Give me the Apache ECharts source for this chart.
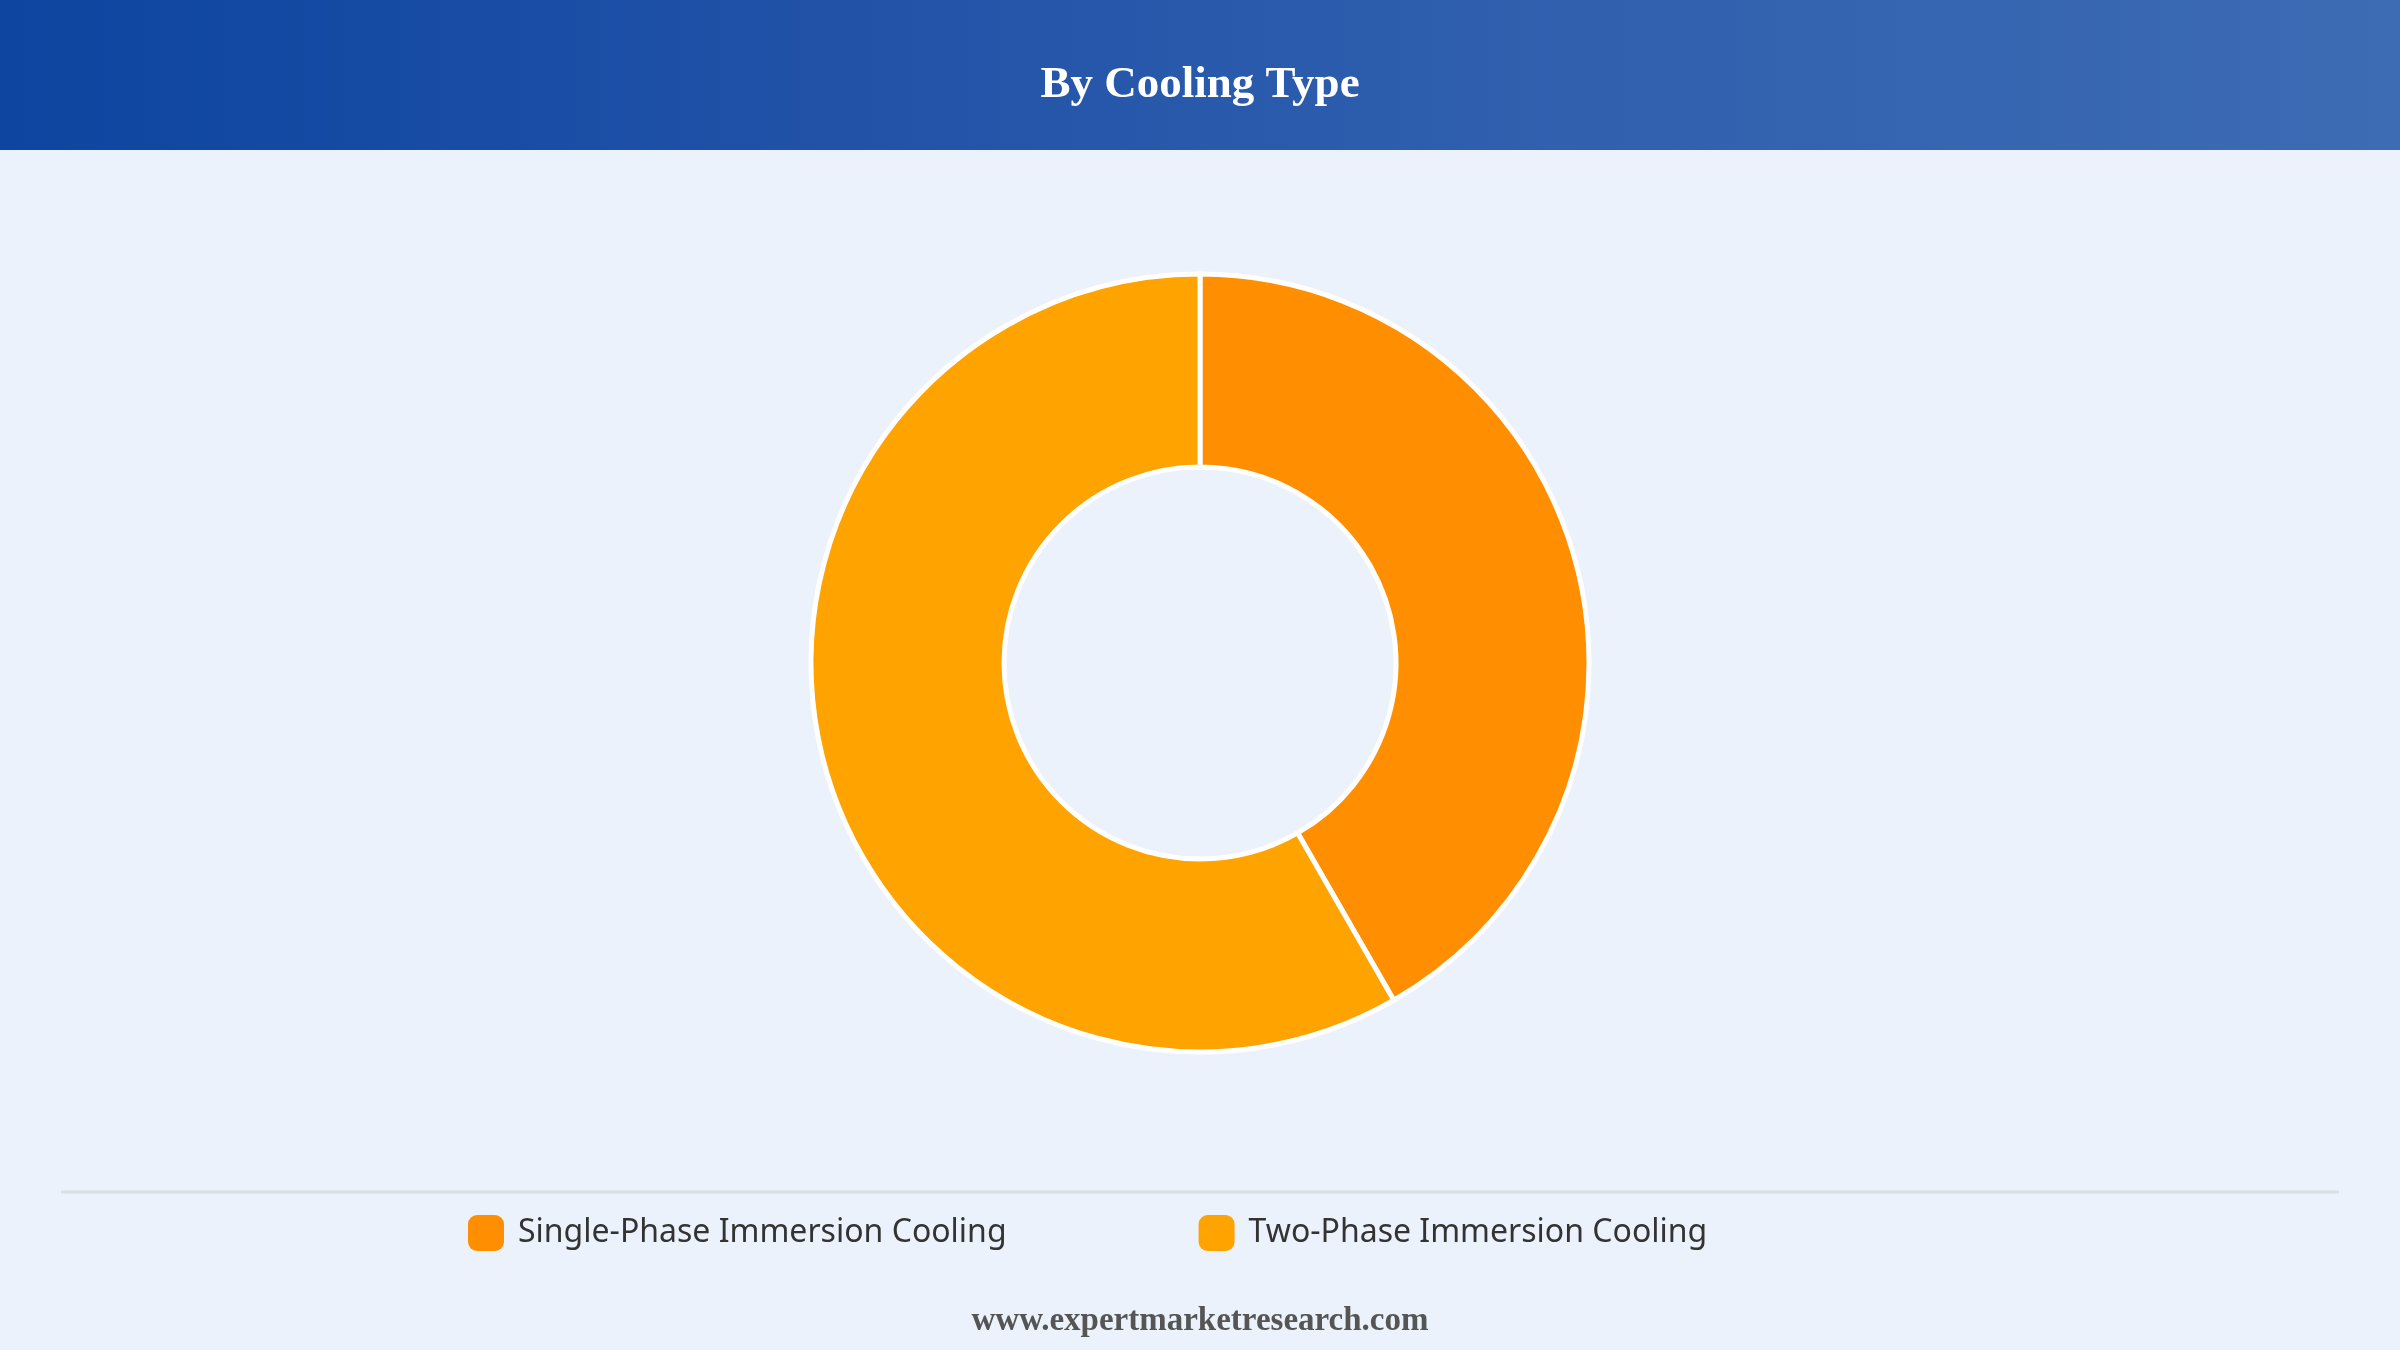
<!DOCTYPE html>
<html>
<head>
<meta charset="utf-8">
<script src="https://cdn.jsdelivr.net/npm/echarts@6/dist/echarts.min.js"></script>
<style>
html,body{margin:0;padding:0;width:2400px;height:1350px;background:#EBF2FC;overflow:hidden;}
#header{position:absolute;left:0;top:0;width:2400px;height:150px;background:linear-gradient(90deg,#0D45A0 0%,#2152A8 35%,#3060AE 65%,#3D6BB4 100%);}
#chart{position:absolute;left:0;top:0;width:2400px;height:1350px;}
</style>
</head>
<body>
<div id="header"></div>
<div id="chart"></div>
<script>
const titleText = 'By Cooling Type';
const categories = ['Single-Phase Immersion Cooling', 'Two-Phase Immersion Cooling'];
const values = [41.7, 58.3];
const colors = ['#FF8F00', '#FFA300'];
const footerText = 'www.expertmarketresearch.com';

const chart = echarts.init(document.getElementById('chart'));
chart.setOption({
  backgroundColor: 'transparent',
  title: {
    text: titleText,
    left: 'center',
    top: 58,
    textStyle: {
      fontFamily: 'Liberation Serif, Times New Roman, serif',
      fontWeight: 'bold',
      fontSize: 45,
      color: '#ffffff'
    }
  },
  legend: {
    data: categories,
    left: 463,
    top: 1210,
    itemWidth: 36,
    itemHeight: 36,
    itemGap: 192,
    icon: 'roundRect',
    itemStyle: { borderWidth: 0 },
    textStyle: {
      fontFamily: 'Noto Sans, Open Sans, sans-serif',
      fontSize: 32,
      color: '#333333',
      padding: [0, 0, 0, 9]
    }
  },
  graphic: [
    {
      type: 'line',
      shape: { x1: 61, y1: 1192, x2: 2339, y2: 1192 },
      style: { stroke: '#DADDE2', lineWidth: 3 }
    },
    {
      type: 'text',
      left: 'center',
      top: 1305,
      style: {
        text: footerText,
        fontFamily: 'Liberation Serif, Times New Roman, serif',
        fontWeight: 'bold',
        fontSize: 33,
        fill: '#555555'
      }
    }
  ],
  series: [{
    type: 'pie',
    center: [1200, 663],
    radius: [196, 389],
    startAngle: 90,
    clockwise: true,
    label: { show: false },
    labelLine: { show: false },
    itemStyle: { borderColor: '#ffffff', borderWidth: 5 },
    emphasis: { disabled: true },
    data: categories.map((c, i) => ({ name: c, value: values[i], itemStyle: { color: colors[i] } }))
  }]
});
</script>
</body>
</html>
